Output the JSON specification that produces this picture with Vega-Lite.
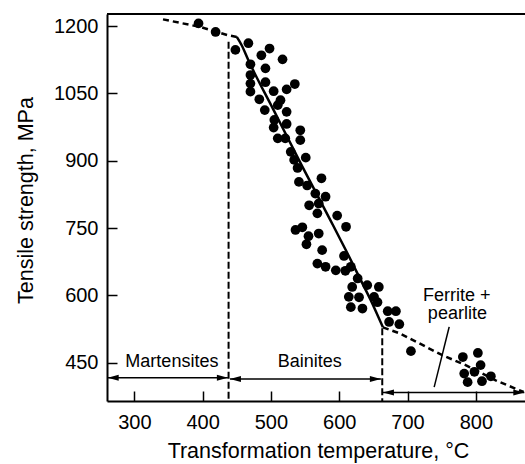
{
  "$schema": "https://vega.github.io/schema/vega-lite/v6.json",
  "autosize": "none",
  "width": 418,
  "height": 387,
  "padding": {"left": 107, "top": 14, "right": 0, "bottom": 63},
  "background": "white",
  "config": {
    "view": {"stroke": null},
    "font": "Liberation Sans",
    "axis": {
      "domainColor": "black", "domainWidth": 2,
      "tickColor": "black", "tickWidth": 1.5, "tickSize": -10,
      "labelColor": "black", "labelFontSize": 20,
      "titleColor": "black", "titleFontSize": 21.5, "titleFontWeight": "normal",
      "grid": false
    }
  },
  "datasets": {
    "obs": [
      {"T":394,"MPa":1206},{"T":419,"MPa":1187},{"T":448,"MPa":1147},{"T":467,"MPa":1162},
      {"T":498,"MPa":1150},{"T":486,"MPa":1135},{"T":517,"MPa":1126},{"T":470,"MPa":1115},
      {"T":492,"MPa":1106},{"T":470,"MPa":1091},{"T":470,"MPa":1072},{"T":470,"MPa":1054},
      {"T":492,"MPa":1075},{"T":504,"MPa":1055},{"T":523,"MPa":1059},{"T":535,"MPa":1071},
      {"T":483,"MPa":1037},{"T":514,"MPa":1035},{"T":491,"MPa":1013},{"T":510,"MPa":1024},
      {"T":523,"MPa":1009},{"T":505,"MPa":991},{"T":504,"MPa":974},{"T":523,"MPa":982},
      {"T":543,"MPa":968},{"T":510,"MPa":950},{"T":521,"MPa":950},{"T":543,"MPa":946},
      {"T":529,"MPa":920},{"T":534,"MPa":902},{"T":551,"MPa":907},{"T":539,"MPa":884},
      {"T":541,"MPa":853},{"T":553,"MPa":845},{"T":574,"MPa":861},{"T":565,"MPa":827},
      {"T":580,"MPa":820},{"T":556,"MPa":801},{"T":570,"MPa":805},{"T":568,"MPa":783},
      {"T":597,"MPa":778},{"T":610,"MPa":753},{"T":536,"MPa":746},{"T":546,"MPa":752},
      {"T":555,"MPa":732},{"T":570,"MPa":738},{"T":552,"MPa":714},{"T":575,"MPa":701},
      {"T":568,"MPa":671},{"T":580,"MPa":664},{"T":595,"MPa":656},{"T":607,"MPa":688},
      {"T":609,"MPa":655},{"T":617,"MPa":664},{"T":627,"MPa":638},{"T":619,"MPa":619},
      {"T":641,"MPa":623},{"T":658,"MPa":619},{"T":614,"MPa":597},{"T":629,"MPa":596},
      {"T":651,"MPa":597},{"T":617,"MPa":574},{"T":634,"MPa":571},{"T":656,"MPa":585},
      {"T":671,"MPa":565},{"T":683,"MPa":565},{"T":673,"MPa":541},{"T":688,"MPa":536},
      {"T":705,"MPa":476},{"T":781,"MPa":463},{"T":803,"MPa":472},{"T":807,"MPa":445},
      {"T":798,"MPa":430},{"T":783,"MPa":426},{"T":788,"MPa":407},{"T":809,"MPa":409},
      {"T":822,"MPa":420}
    ],
    "curve": [
      {"seg":"upper","i":1,"T":342,"MPa":1215},{"seg":"upper","i":2,"T":397,"MPa":1198},
      {"seg":"upper","i":3,"T":436,"MPa":1180},{"seg":"upper","i":4,"T":450,"MPa":1176},
      {"seg":"solid","i":1,"T":450,"MPa":1176},{"seg":"solid","i":2,"T":457,"MPa":1158},
      {"seg":"solid","i":3,"T":467,"MPa":1124},{"seg":"solid","i":4,"T":504,"MPa":1013},
      {"seg":"solid","i":5,"T":546,"MPa":887},{"seg":"solid","i":6,"T":587,"MPa":768},
      {"seg":"solid","i":7,"T":612,"MPa":694},{"seg":"solid","i":8,"T":629,"MPa":642},
      {"seg":"solid","i":9,"T":646,"MPa":590},{"seg":"solid","i":10,"T":664,"MPa":529},
      {"seg":"lower","i":1,"T":664,"MPa":529},{"seg":"lower","i":2,"T":688,"MPa":516},
      {"seg":"lower","i":3,"T":719,"MPa":492},{"seg":"lower","i":4,"T":751,"MPa":467},
      {"seg":"lower","i":5,"T":785,"MPa":445},{"seg":"lower","i":6,"T":829,"MPa":411},
      {"seg":"lower","i":7,"T":870,"MPa":385}
    ],
    "dividers": [
      {"T":438,"MPa":1165,"MPa2":365},
      {"T":663,"MPa":527,"MPa2":365}
    ],
    "arrows": [
      {"name":"Martensites","T":261,"T2":437,"MPa":417},
      {"name":"Bainites","T":440,"T2":661,"MPa":414},
      {"name":"Ferrite + pearlite","T":664,"T2":871,"MPa":384}
    ],
    "heads": [
      {"T":261,"MPa":417,"dir":"left"},{"T":437,"MPa":417,"dir":"right"},
      {"T":440,"MPa":414,"dir":"left"},{"T":661,"MPa":414,"dir":"right"},
      {"T":664,"MPa":384,"dir":"left"},{"T":871,"MPa":384,"dir":"right"}
    ],
    "pointer": [
      {"T":761,"MPa":530,"T2":739,"MPa2":396}
    ],
    "labels": [
      {"text":"Martensites","T":355,"MPa":441},
      {"text":"Bainites","T":557,"MPa":441},
      {"text":"Ferrite +","T":772,"MPa":588},
      {"text":"pearlite","T":773,"MPa":547}
    ],
    "frame": [
      {"edge":"top"}
    ]
  },
  "layer": [
    {
      "data": {"name": "obs"},
      "mark": {"type": "point", "filled": true, "color": "black", "opacity": 1, "size": 95},
      "encoding": {
        "x": {"field": "T", "type": "quantitative",
              "scale": {"domain": [260, 872], "nice": false, "zero": false},
              "axis": {"values": [300,400,500,600,700,800], "title": "Transformation temperature, °C", "format": "d",
                       "labelPadding": 21, "titleX": 211, "titleY": 56, "titleBaseline": "alphabetic", "titleAlign": "center"}},
        "y": {"field": "MPa", "type": "quantitative",
              "scale": {"domain": [365, 1227], "nice": false, "zero": false},
              "axis": {"values": [450,600,750,900,1050,1200], "title": "Tensile strength, MPa", "format": "d",
                       "labelPadding": 19, "titleX": -75, "titleY": 186, "titleBaseline": "alphabetic", "titleAlign": "center", "titleAngle": -90}}
      }
    },
    {
      "data": {"name": "frame"},
      "mark": {"type": "rule", "color": "black", "strokeWidth": 2},
      "encoding": {"y": {"datum": 1227, "type": "quantitative"}}
    },
    {
      "data": {"name": "curve"},
      "transform": [{"filter": "datum.seg === 'solid'"}],
      "mark": {"type": "line", "color": "black", "strokeWidth": 2.5, "interpolate": "monotone"},
      "encoding": {
        "x": {"field": "T", "type": "quantitative"},
        "y": {"field": "MPa", "type": "quantitative"},
        "order": {"field": "i"}
      }
    },
    {
      "data": {"name": "curve"},
      "transform": [{"filter": "datum.seg !== 'solid'"}],
      "mark": {"type": "line", "color": "black", "strokeWidth": 2.5, "strokeDash": [6, 4]},
      "encoding": {
        "x": {"field": "T", "type": "quantitative"},
        "y": {"field": "MPa", "type": "quantitative"},
        "detail": {"field": "seg"},
        "order": {"field": "i"}
      }
    },
    {
      "data": {"name": "dividers"},
      "mark": {"type": "rule", "color": "black", "strokeWidth": 2, "strokeDash": [7, 3]},
      "encoding": {
        "x": {"field": "T", "type": "quantitative"},
        "y": {"field": "MPa", "type": "quantitative"},
        "y2": {"field": "MPa2"}
      }
    },
    {
      "data": {"name": "arrows"},
      "mark": {"type": "rule", "color": "black", "strokeWidth": 1.5},
      "encoding": {
        "x": {"field": "T", "type": "quantitative"},
        "x2": {"field": "T2"},
        "y": {"field": "MPa", "type": "quantitative"}
      }
    },
    {
      "data": {"name": "heads"},
      "mark": {"type": "point", "filled": true, "color": "black", "opacity": 1, "size": 100, "strokeWidth": 0},
      "encoding": {
        "x": {"field": "T", "type": "quantitative"},
        "y": {"field": "MPa", "type": "quantitative"},
        "shape": {"field": "dir", "type": "nominal", "legend": null,
                  "scale": {"domain": ["left", "right"], "range": ["M0,0L2.2,-0.6L2.2,0.6Z", "M0,0L-2.2,-0.6L-2.2,0.6Z"]}}
      }
    },
    {
      "data": {"name": "pointer"},
      "mark": {"type": "rule", "color": "black", "strokeWidth": 1.5},
      "encoding": {
        "x": {"field": "T", "type": "quantitative"},
        "x2": {"field": "T2"},
        "y": {"field": "MPa", "type": "quantitative"},
        "y2": {"field": "MPa2"}
      }
    },
    {
      "data": {"name": "labels"},
      "mark": {"type": "text", "color": "black", "fontSize": 18, "align": "center", "baseline": "alphabetic", "font": "Liberation Sans"},
      "encoding": {
        "x": {"field": "T", "type": "quantitative"},
        "y": {"field": "MPa", "type": "quantitative"},
        "text": {"field": "text"}
      }
    }
  ]
}
